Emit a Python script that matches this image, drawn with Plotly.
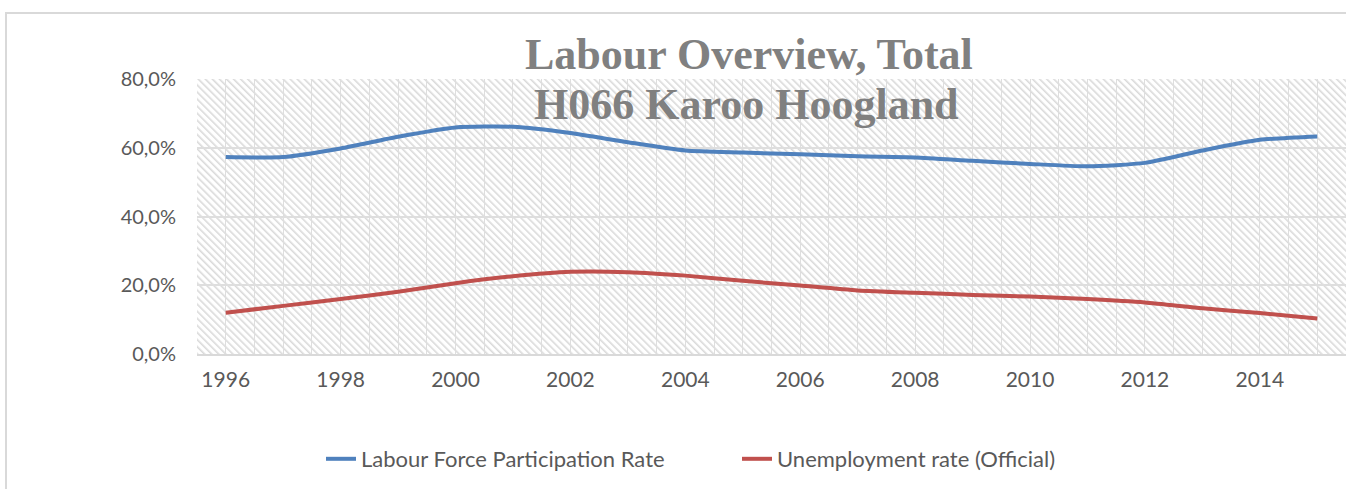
import base64
import plotly.graph_objects as go

years = list(range(1996, 2016))
lfpr = [57.3, 57.3, 59.8, 63.2, 65.9, 66.1, 64.3, 61.6, 59.2, 58.6, 58.1, 57.5,
        57.2, 56.2, 55.3, 54.6, 55.6, 59.2, 62.3, 63.3]
unemp = [12.0, 14.0, 16.0, 18.1, 20.6, 22.6, 23.9, 23.8, 22.8, 21.3, 19.9, 18.5,
         17.8, 17.2, 16.7, 16.0, 15.0, 13.3, 11.9, 10.3]
series_names = ["Labour Force Participation Rate", "Unemployment rate (Official)"]
y_ticks = [0, 20, 40, 60, 80]
y_ticktext = [f"{v:.1f}".replace(".", ",") + "%" for v in y_ticks]
x_ticks = list(range(1996, 2016, 2))
title_lines = ["Labour Overview, Total", "H066 Karoo Hoogland"]

W, H = 1346, 489
ML, MR, MT, MB = 197, 0, 79, 135
PW, PH = W - ML - MR, H - MT - MB

def px_x(px):
    return (px - ML) / PW

def px_y(py):
    return 1 + (MT - py) / PH

# diagonal hatch texture for the plot area
svg = f'''<svg xmlns="http://www.w3.org/2000/svg" width="{PW}" height="{PH}">
<defs><pattern id="p" width="5" height="5" patternUnits="userSpaceOnUse" patternTransform="rotate(-45)">
<rect width="5" height="5" fill="#ffffff"/><rect x="0" y="0" width="1.6" height="5" fill="#dadada"/>
</pattern></defs><rect width="{PW}" height="{PH}" fill="url(#p)"/></svg>'''
src = "data:image/svg+xml;base64," + base64.b64encode(svg.encode()).decode()

fig = go.Figure()
fig.add_trace(go.Scatter(x=years, y=lfpr, name=series_names[0], mode="lines",
                         line=dict(color="#4F81BD", width=4, shape="spline", smoothing=0.6)))
fig.add_trace(go.Scatter(x=years, y=unemp, name=series_names[1], mode="lines",
                         line=dict(color="#C0504D", width=4, shape="spline", smoothing=0.6)))

minor_vals = [y - 0.5 for y in years] + [years[-1] + 0.5] + years

title_font = dict(family="Liberation Serif, serif", size=44, color="#808080")

fig.update_layout(
    width=W, height=H,
    margin=dict(l=ML, r=MR, t=MT, b=MB),
    paper_bgcolor="white", plot_bgcolor="white",
    font=dict(family="Lato, Liberation Sans, sans-serif", color="#595959"),
    showlegend=True,
    legend=dict(orientation="h", x=px_x(321), xanchor="left", y=px_y(459), yanchor="middle",
                entrywidth=371, entrywidthmode="pixels",
                font=dict(size=22, color="#595959"), bgcolor="rgba(0,0,0,0)"),
    xaxis=dict(range=[years[0] - 0.5, years[-1] + 0.5], tickvals=x_ticks,
               tickfont=dict(size=21, color="#595959"), showgrid=False,
               showline=True, linecolor="#d9d9d9", linewidth=1.5, ticks="",
               ticklabelstandoff=6, zeroline=False,
               minor=dict(tickvals=minor_vals, showgrid=True, gridcolor="#dedede", gridwidth=1.3)),
    yaxis=dict(range=[0, 80], tickvals=y_ticks, ticktext=y_ticktext,
               tickfont=dict(size=20, color="#595959"), showgrid=True,
               gridcolor="#dedede", gridwidth=1.5, zeroline=False, showline=False,
               ticklabelstandoff=20),
    images=[dict(source=src, xref="paper", yref="paper", x=0, y=1, sizex=1, sizey=1,
                 xanchor="left", yanchor="top", sizing="stretch", layer="below")],
    annotations=[
        dict(text="<b>" + title_lines[0] + "</b>", xref="paper", yref="paper",
             x=px_x(749), y=px_y(54), xanchor="center", yanchor="middle", showarrow=False,
             font=title_font),
        dict(text="<b>" + title_lines[1] + "</b>", xref="paper", yref="paper",
             x=px_x(746), y=px_y(104), xanchor="center", yanchor="middle", showarrow=False,
             font=title_font),
    ],
    shapes=[dict(type="rect", xref="paper", yref="paper",
                 x0=px_x(6), x1=1.02, y0=-0.7, y1=px_y(13),
                 line=dict(color="#d9d9d9", width=2), fillcolor="rgba(0,0,0,0)", layer="below")],
)

fig.write_html("out.html", config={"displayModeBar": False},
               post_script="document.body.style.margin='0';")
